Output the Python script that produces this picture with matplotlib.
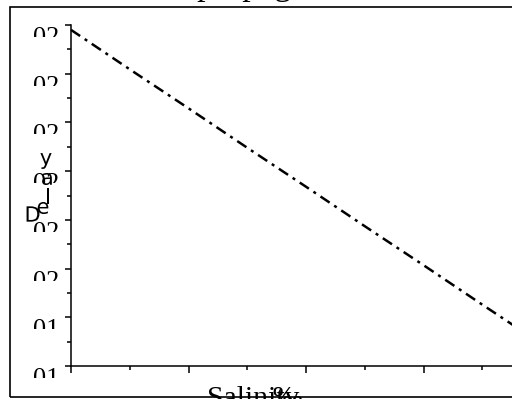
import numpy as np
import matplotlib
matplotlib.use("Agg")
import matplotlib.pyplot as plt
import matplotlib.transforms as mtransforms
from matplotlib.patches import Rectangle, PathPatch
from matplotlib.textpath import TextPath
from matplotlib.font_manager import FontProperties
from matplotlib.ticker import MultipleLocator

# data
salinity = [0, 5, 10, 15, 20, 25, 30, 35, 40]
delay = [0.2490, 0.2409, 0.2329, 0.2248, 0.2168, 0.2087, 0.2007, 0.1926, 0.1846]
ytick_vals = [0.18, 0.19, 0.20, 0.21, 0.22, 0.23, 0.24, 0.25]
ytick_labels = ['01', '01', '02', '02', '02', '02', '02', '02']
title_text = "Sound propagation"
xlabel_text = "Salinity"
unit_text = "\u2030"
ylabel_text = "Delay"

W, H = 512, 399
fig = plt.figure(figsize=(W / 100, H / 100), dpi=100)

def fx(px):
    return px / W

def fy(py):
    return 1 - py / H

# outer frame
fig.patches.append(Rectangle((fx(10), fy(397)), 1.2, fy(7) - fy(397), fill=False,
                             edgecolor='black', linewidth=1.2, transform=fig.transFigure))

ax = fig.add_axes([fx(71), fy(366), (541 - 71) / W, fy(25) - fy(366)])
ax.plot(salinity, delay, color='black', linewidth=1.8,
        linestyle=(0, (4.4, 2.2, 1.2, 2.2)), clip_on=False)
ax.set_xlim(0, 40)
ax.set_ylim(0.18, 0.25)

for s in ['top', 'right']:
    ax.spines[s].set_visible(False)
for s in ['left', 'bottom']:
    ax.spines[s].set_linewidth(1.1)

ax.xaxis.set_major_locator(MultipleLocator(10))
ax.xaxis.set_minor_locator(MultipleLocator(5))
ax.set_yticks(ytick_vals)
ax.set_yticklabels(ytick_labels, fontsize=19, family='Liberation Serif')
ax.yaxis.set_minor_locator(MultipleLocator(0.005))
ax.tick_params(axis='x', which='major', length=5, width=1.1, labelbottom=False)
ax.tick_params(axis='x', which='minor', length=3, width=1.1)
ax.tick_params(axis='y', which='major', length=4.5, width=1.1, pad=4)
ax.tick_params(axis='y', which='minor', length=3, width=1.1)

# tick labels hang below their tick and lose their lower half
offset = mtransforms.ScaledTranslation(0, -0.02, fig.dpi_scale_trans)
for lab in ax.get_yticklabels():
    lab.set_va('top')
    lab.set_transform(lab.get_transform() + offset)
fig.canvas.draw()
for v, lab in zip(ytick_vals, ax.get_yticklabels()):
    ty = ax.transData.transform((0, v))[1]
    lab.set_clip_box(mtransforms.Bbox.from_extents(0, ty - 12, 70, ty + 40))

# title, only the bottom of it shows
fig.text(fx(102), fy(-5), title_text, fontsize=24.5, family='Liberation Serif',
         ha='left', va='baseline')

# x label, cut by the lower edge
fig.text(fx(207), fy(406), xlabel_text, fontsize=21.4, family='Liberation Serif',
         ha='left', va='baseline')
fig.text(fx(272), fy(406), unit_text, fontsize=21.4,
         family=['Liberation Serif', 'DejaVu Sans'], ha='left', va='baseline')

# y label: glyphs stacked upward
letter_pos = [(33, 214), (43, 208), (48, 196), (47, 179), (46, 161)]
prop = FontProperties(family='DejaVu Sans')
for ch, (cx, cy) in zip(ylabel_text, letter_pos):
    tp = TextPath((0, 0), ch, size=21, prop=prop)
    ext = tp.get_extents()
    tr = (mtransforms.Affine2D()
          .translate(-(ext.x0 + ext.x1) / 2, -(ext.y0 + ext.y1) / 2)
          .scale(1 / W, 1 / H)
          .translate(fx(cx), fy(cy)) + fig.transFigure)
    fig.patches.append(PathPatch(tp, facecolor='black', edgecolor='none', transform=tr))

fig.savefig('out.png', dpi=100)
